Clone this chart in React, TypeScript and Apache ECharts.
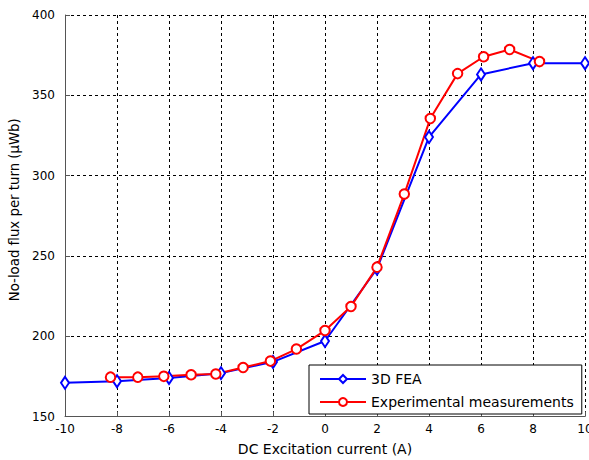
import React, { useEffect, useRef } from "react";
import * as echarts from "echarts";

const feaX = [-10, -8, -6, -4, -2, 0, 2, 4, 6, 8, 10];
const feaY = [171, 172, 174, 177, 184, 197, 242, 324, 363, 370, 370];

const expX = [-8.25, -7.2, -6.2, -5.15, -4.2, -3.15, -2.1, -1.1, 0, 1, 2, 3.05, 4.05, 5.1, 6.1, 7.1, 8.25];
const expY = [174.5, 174.5, 175, 176, 176.5, 180.5, 184.5, 192, 203.5, 218.5, 243, 288.5, 335.5, 363.5, 374, 378.5, 371];

const seriesNames = ["3D FEA", "Experimental measurements"];
const xTitle = "DC Excitation current (A)";
const yTitle = "No-load flux per turn (μWb)";

const FONT = "DejaVu Sans";

export default function App() {
  const ref = useRef<HTMLDivElement>(null);
  useEffect(() => {
    document.body.style.margin = "0";
    const chart = echarts.init(ref.current!, null, { renderer: "svg" });
    const axisCommon = {
      axisLine: { show: true, onZero: false, lineStyle: { color: "#555", width: 1 } },
      axisTick: { show: true, inside: true, length: 5, lineStyle: { color: "#555" } },
      splitLine: { show: true, lineStyle: { color: "#000", width: 1, type: [3, 3] } },
    };
    chart.setOption({
      animation: false,
      backgroundColor: "#fff",
      textStyle: { fontFamily: FONT },
      grid: { left: 65, right: 4, top: 15, bottom: 43.5, containLabel: false, outerBoundsMode: "none" },
      xAxis: {
        type: "value",
        min: -10,
        max: 10,
        interval: 2,
        ...axisCommon,
        axisLabel: { color: "#000", fontSize: 12, margin: 6, fontFamily: FONT, showMaxLabel: true, showMinLabel: true },
        name: xTitle,
        nameLocation: "middle",
        nameGap: 25,
        nameTextStyle: { fontSize: 14, color: "#000", fontFamily: FONT },
      },
      yAxis: {
        type: "value",
        min: 150,
        max: 400,
        interval: 50,
        ...axisCommon,
        axisLabel: { color: "#000", fontSize: 12, margin: 10, fontFamily: FONT },
        name: yTitle,
        nameLocation: "middle",
        nameGap: 39,
        nameRotate: 90,
        nameTextStyle: { fontSize: 13.3, color: "#000", fontFamily: FONT, padding: [0, 0, 0, 12] },
      },
      legend: {
        data: seriesNames,
        orient: "vertical",
        left: 309,
        top: 365,
        backgroundColor: "#fff",
        borderColor: "#000",
        borderWidth: 1,
        borderRadius: 0,
        padding: [7, 8, 5, 10],
        itemWidth: 46,
        itemHeight: 10,
        itemGap: 9,
        textStyle: { fontSize: 14, color: "#000", fontFamily: FONT },
      },
      series: [
        {
          name: seriesNames[0],
          type: "line",
          data: feaX.map((x, i) => [x, feaY[i]]),
          symbol: "emptyDiamond",
          symbolSize: [8, 12],
          lineStyle: { color: "#0000ff", width: 2 },
          itemStyle: { color: "#0000ff", borderWidth: 1.5 },
        },
        {
          name: seriesNames[1],
          type: "line",
          data: expX.map((x, i) => [x, expY[i]]),
          symbol: "emptyCircle",
          symbolSize: 9.5,
          lineStyle: { color: "#ff0000", width: 2 },
          itemStyle: { color: "#ff0000", borderWidth: 1.5 },
        },
      ],
    });
    return () => chart.dispose();
  }, []);
  return <div ref={ref} style={{ width: 589, height: 460, position: "absolute", left: 0, top: 0 }} />;
}
